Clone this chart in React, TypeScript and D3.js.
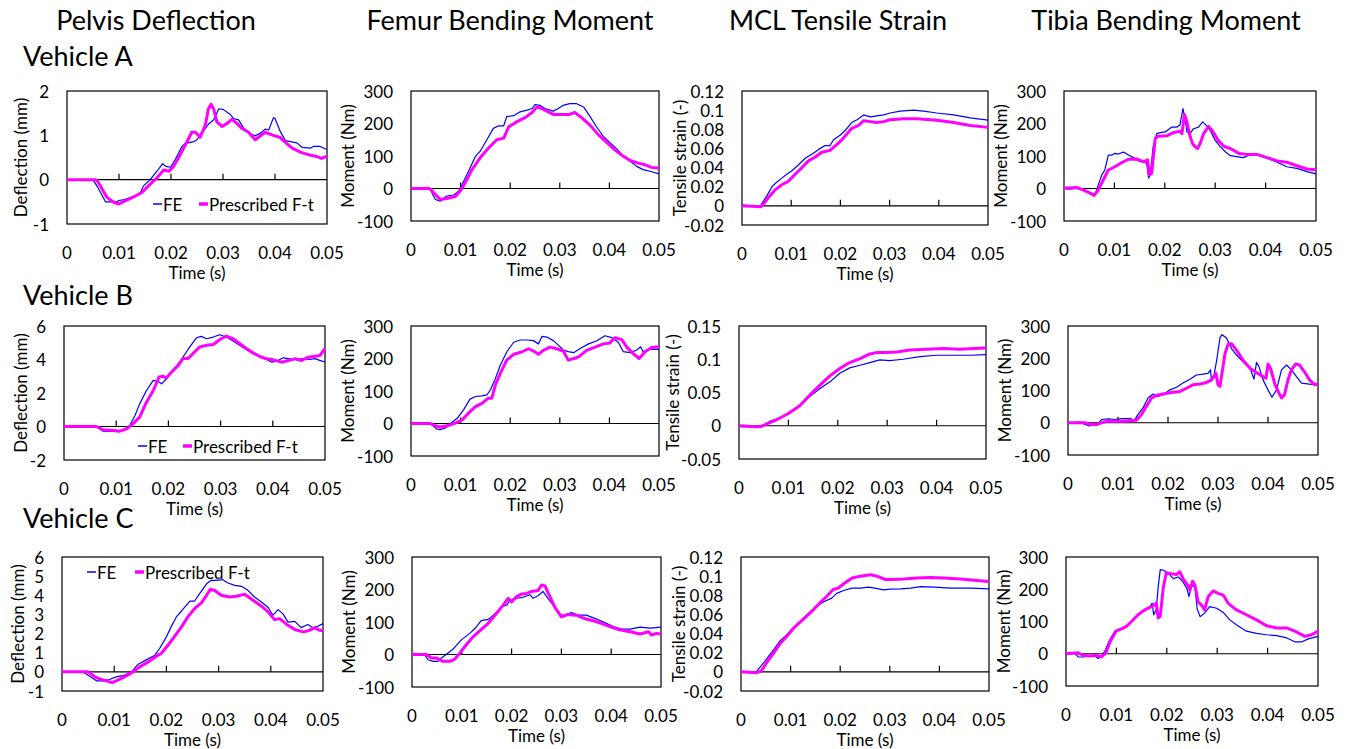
import * as d3 from 'd3';

type Pt = [number, number]; // [time in ms, value]

// ---------- Pelvis deflection (mm) ----------
const pelvisA_FE: Pt[] = [[0,0],[5,0],[5.8,-0.15],[7.4,-0.5],[9.6,-0.5],[10,-0.47],[11,-0.45],[12.5,-0.4],[14,-0.33],[14.7,-0.14],[16,0],[17.3,0.19],[18.4,0.36],[19,0.3],[19.9,0.28],[20.8,0.45],[22.1,0.75],[22.8,0.82],[24.4,0.86],[25,0.9],[25.6,1.0],[27.2,1.25],[28.2,1.35],[29.2,1.6],[30.1,1.58],[31.4,1.47],[32,1.38],[33,1.35],[34,1.16],[35.3,1.03],[36.2,0.99],[37.2,1.05],[38.1,1.14],[38.8,1.12],[39.7,1.4],[40,1.38],[41,1.09],[42,0.88],[43,0.86],[44.2,0.83],[45.2,0.73],[46.8,0.71],[47.4,0.75],[48.7,0.75],[49.4,0.71],[50,0.68]];
const pelvisA_PF: Pt[] = [[0,0],[5.4,0],[5.8,-0.02],[7.7,-0.4],[9,-0.51],[9.9,-0.55],[11.2,-0.48],[12.8,-0.39],[14.4,-0.29],[16,-0.1],[17.3,0.04],[18.6,0.22],[19.6,0.19],[20.5,0.3],[21.8,0.57],[22.8,0.79],[24,1.07],[24.7,1.07],[25.6,0.96],[26.6,1.23],[27.2,1.6],[27.7,1.7],[28.2,1.6],[28.8,1.31],[29.8,1.2],[30.8,1.27],[31.7,1.36],[32.7,1.27],[33.6,1.16],[34.9,1.07],[36.2,0.9],[37.2,0.99],[38.1,1.07],[39.4,1.01],[41,0.95],[42,0.84],[43.3,0.71],[44.9,0.62],[46.5,0.56],[47.8,0.53],[49,0.48],[50,0.53]];
const pelvisB_FE: Pt[] = [[0,0],[6.2,0],[7.5,-0.28],[9.4,-0.3],[11.3,-0.24],[12.6,0.06],[13.6,0.66],[14.5,1.35],[15.8,2.15],[17.1,2.75],[18,2.7],[18.7,2.55],[19.6,2.85],[20.6,3.25],[21.9,3.75],[22.8,4.15],[24.1,4.75],[25.4,5.3],[26.3,5.38],[27.3,5.24],[28.6,5.34],[29.8,5.48],[31.1,5.34],[32.4,5.1],[33.7,4.84],[35,4.58],[36.3,4.34],[37.5,4.18],[38.8,4.0],[39.8,3.84],[40.7,3.9],[42,4.1],[43.3,4.04],[44.6,4.0],[45.8,4.05],[47.1,4.0],[48.1,4.05],[49,3.95],[50,3.85]];
const pelvisB_PF: Pt[] = [[0,0],[6.2,0],[7.5,-0.2],[9.4,-0.24],[10.7,-0.28],[12,-0.14],[13.2,0.16],[14.5,0.56],[15.8,1.45],[17.1,2.15],[18.2,2.95],[19,3.0],[19.6,2.9],[20.6,3.25],[21.9,3.65],[22.8,4.06],[23.8,4.06],[24.7,4.36],[26,4.75],[27.3,4.85],[28.6,4.9],[29.8,5.18],[31.1,5.4],[32.4,5.24],[33.7,4.94],[35,4.64],[36.3,4.38],[37.5,4.18],[38.8,4.04],[40.1,3.98],[41.7,3.84],[43,3.94],[44.2,4.04],[45.5,3.94],[46.8,4.14],[48.1,4.2],[49,4.24],[50,4.64]];
const pelvisC_FE: Pt[] = [[0,0],[4,0],[5.3,-0.23],[6.6,-0.47],[7.9,-0.47],[9.1,-0.4],[10.4,-0.26],[12,-0.17],[13.3,0],[14.6,0.4],[16.2,0.64],[17.8,0.87],[18.7,1.22],[20,1.83],[20.9,2.35],[21.9,2.87],[22.9,3.18],[24.5,3.7],[25.4,3.7],[26.4,4.1],[27.7,4.6],[28.6,4.78],[29.6,4.78],[30.7,4.82],[31.8,4.64],[33.1,4.52],[34.4,4.47],[35.6,4.26],[36.9,3.91],[38.2,3.65],[39.5,3.36],[40.4,2.96],[41.4,3.25],[42.3,3.04],[43.3,2.6],[44.6,2.64],[45.8,2.31],[47.1,2.47],[48.1,2.3],[49,2.38],[50,2.52]];
const pelvisC_PF: Pt[] = [[0,0],[5,0],[6.3,-0.26],[7.5,-0.4],[8.5,-0.47],[9.6,-0.56],[10.7,-0.43],[12.3,-0.21],[13.6,0],[14.9,0.26],[16.5,0.52],[18.1,0.82],[19,0.96],[20.3,1.39],[21.5,1.83],[22.9,2.35],[24.1,2.87],[25.4,3.3],[26.7,3.6],[27.7,4.0],[28.4,4.31],[29.2,4.26],[30.5,4.0],[32.1,3.91],[33.4,3.95],[35,4.05],[36.6,3.74],[38.2,3.43],[39.5,3.13],[40.7,2.73],[41.7,2.78],[43,2.49],[44.6,2.21],[46.2,2.09],[47.1,2.14],[48.4,2.3],[49.4,2.17],[50,2.14]];

// ---------- Femur bending moment (Nm) ----------
const femurA_FE: Pt[] = [[0,0],[4,0],[4.2,-13],[4.9,-34],[5.9,-39],[6.6,-30],[7.2,-23],[8.6,-20],[9.6,-8],[10.3,12],[11.6,53],[13,99],[14,116],[15.3,150],[16.6,185],[17.7,193],[18.7,193],[19.3,221],[20.7,224],[22,236],[23.4,241],[24.4,246],[25,258],[26,256],[27,246],[27.7,243],[28.7,238],[29.7,246],[30.7,256],[32,261],[33.4,261],[34.8,251],[36.1,221],[37.4,190],[38.8,160],[40.1,141],[41.5,122],[42.8,99],[44.2,84],[45.5,68],[46.8,58],[48.2,53],[50,45]];
const femurA_PF: Pt[] = [[0,0],[3.7,0],[3.9,-2],[4.9,-18],[5.9,-34],[7.2,-31],[8.9,-25],[9.9,-8],[10.9,17],[12.3,58],[14,96],[15.6,124],[17.3,150],[18.7,155],[19.7,190],[21.3,205],[23,218],[24.4,234],[25.4,251],[26.4,246],[27.7,236],[28.7,228],[30.4,228],[32,228],[33,234],[34.4,218],[36.1,195],[37.8,165],[39.5,141],[41.1,119],[42.8,99],[44.2,86],[45.8,78],[47.2,73],[48.5,65],[50,63]];
const femurB_FE: Pt[] = [[0,0],[3.2,0],[4.2,-4],[5.2,-17],[5.9,-19],[6.9,-14],[7.9,-1],[9.3,16],[10.6,42],[11.9,75],[13,83],[14.3,85],[15.3,88],[16,103],[17,138],[18,179],[19.3,220],[20.7,250],[22,257],[23.4,257],[24.7,255],[25.7,245],[26.4,268],[27.4,266],[28.7,255],[29.7,241],[30.7,226],[31.7,221],[32.8,218],[34.1,231],[35.8,245],[37.4,254],[39.1,270],[40.5,264],[41.8,250],[42.8,221],[44.2,218],[45.5,226],[46.3,236],[46.8,221],[48.2,228],[50,228]];
const femurB_PF: Pt[] = [[0,0],[3.9,0],[4.9,-7],[5.9,-11],[7.2,-7],[8.6,-1],[10.3,11],[11.6,32],[13,52],[14.3,62],[15.6,78],[16.3,78],[17,118],[18,154],[19.3,195],[20.7,213],[22.3,220],[23.7,230],[24.7,223],[25.7,213],[26.7,225],[28,235],[29.4,230],[30.7,223],[31.7,195],[32.8,200],[33.8,205],[35.4,225],[37.1,235],[38.8,245],[40.1,248],[41.1,264],[42.5,258],[43.5,235],[44.8,215],[46,200],[47.2,221],[48.5,234],[50,236]];
const femurC_FE: Pt[] = [[0,0],[2.5,0],[3.2,-16],[4.2,-21],[5.2,-21],[5.9,-11],[6.8,-1],[8.2,16],[9.9,45],[11.6,65],[12.9,84],[13.9,104],[15.3,108],[16.6,124],[18,147],[19,152],[19.6,165],[21,173],[22.3,176],[23.7,184],[24.3,173],[25.3,181],[26.3,194],[27.3,173],[28.7,145],[29.7,121],[30.7,121],[32,129],[33.4,121],[35,121],[37.1,109],[38.7,98],[40.4,86],[42.1,78],[43.8,78],[45.8,84],[47.8,81],[50,84]];
const femurC_PF: Pt[] = [[0,0],[2.9,0],[3.9,-11],[4.9,-11],[6.2,-21],[7.6,-21],[8.6,-14],[9.6,4],[10.9,30],[12.3,55],[13.6,73],[15.3,96],[17,127],[18.3,152],[19.3,173],[20,162],[21,178],[22,186],[23,188],[24,194],[25.3,197],[26,214],[26.7,211],[27.7,178],[28.7,145],[30,116],[31.3,123],[33,121],[34.6,111],[36.4,104],[38,96],[39.7,86],[41.7,76],[43.8,70],[45.8,63],[47.5,70],[48.1,60],[49.1,65],[50,63]];

// ---------- MCL tensile strain (-) ----------
const mclA_FE: Pt[] = [[0,0.0007],[3.7,-0.0007],[4.1,0.003],[5.1,0.011],[6.1,0.02],[7.1,0.025],[8.1,0.029],[9.1,0.033],[10.2,0.037],[11.5,0.043],[12.9,0.05],[14.2,0.054],[15.6,0.059],[16.9,0.063],[17.9,0.063],[18.6,0.069],[20,0.074],[21,0.079],[22.3,0.087],[23.4,0.09],[24.7,0.095],[26.1,0.093],[27.4,0.094],[28.8,0.095],[30.1,0.097],[32.2,0.099],[34.9,0.1],[36.9,0.099],[39.6,0.097],[43,0.095],[46.4,0.092],[50,0.0895]];
const mclA_PF: Pt[] = [[0,0],[2,-0.0005],[3.8,-0.001],[4.4,0.002],[5.4,0.009],[6.8,0.017],[8.1,0.022],[9.5,0.026],[10.8,0.033],[12.2,0.04],[13.5,0.047],[14.9,0.051],[16.2,0.056],[17.9,0.058],[19,0.063],[20.3,0.069],[21.3,0.075],[22.3,0.081],[23.7,0.084],[24.7,0.089],[26.1,0.088],[27.4,0.087],[28.8,0.088],[30.1,0.09],[32.8,0.091],[35.6,0.091],[39.6,0.0895],[43,0.087],[46.4,0.084],[50,0.082]];
const mclB_FE: Pt[] = [[0,-0.001],[3.5,-0.002],[4.9,0],[6.2,0.0065],[8.2,0.0115],[10.3,0.019],[12.3,0.03],[14.3,0.044],[16.4,0.056],[18.4,0.066],[20.4,0.079],[22.4,0.087],[24.5,0.091],[26.5,0.095],[28.5,0.099],[30.5,0.098],[33.2,0.1],[36.6,0.104],[40,0.106],[43.4,0.106],[46.8,0.106],[50,0.107]];
const mclB_PF: Pt[] = [[0,0],[3.5,-0.0015],[4.5,-0.001],[5.5,0.0025],[7.6,0.009],[9.9,0.018],[12.3,0.03],[14.3,0.046],[16.4,0.061],[18.4,0.075],[20.4,0.086],[22.4,0.095],[24.5,0.101],[26.5,0.108],[27.8,0.11],[29.9,0.11],[31.9,0.111],[34.6,0.114],[38,0.115],[41.4,0.116],[44.7,0.115],[47.4,0.116],[50,0.117]];
const mclC_FE: Pt[] = [[0,0],[3,-0.0007],[3.4,0.002],[4.5,0.009],[5.5,0.016],[6.8,0.0245],[7.8,0.032],[8.9,0.037],[10.2,0.044],[11.6,0.051],[12.9,0.058],[14.3,0.064],[15.6,0.07],[17,0.074],[18.3,0.077],[19.3,0.082],[20.7,0.085],[22.4,0.0875],[24.1,0.0875],[25.7,0.0885],[27,0.0875],[28.8,0.0857],[30.1,0.0864],[32.2,0.0868],[34.2,0.0875],[36.2,0.089],[38.9,0.0885],[42.3,0.0875],[46.4,0.0875],[50,0.0868]];
const mclC_PF: Pt[] = [[0,0],[3.1,-0.001],[4.1,0.001],[5.1,0.009],[6.5,0.019],[7.8,0.029],[9.2,0.037],[10.5,0.045],[11.9,0.052],[13.2,0.058],[14.6,0.065],[15.9,0.072],[17.3,0.079],[18.6,0.086],[19.6,0.0875],[20.7,0.092],[22.4,0.098],[24.1,0.1],[26.1,0.1015],[27.4,0.1],[29.1,0.0965],[30.5,0.0965],[32.8,0.097],[35.5,0.098],[38.2,0.0987],[40.9,0.098],[44.3,0.097],[47.6,0.0955],[50,0.0945]];

// ---------- Tibia bending moment (Nm) ----------
const tibiaA_FE: Pt[] = [[0,0],[1.2,-2],[2.5,1],[3.5,-1],[4.5,-9],[5.5,-19],[6,-21],[6.4,-9],[6.8,11],[7.5,42],[8.1,57],[8.8,103],[9.5,103],[10.1,108],[10.8,106],[11.8,112],[12.8,103],[13.8,95],[14.8,85],[15.8,81],[16.4,78],[16.8,32],[17.1,42],[17.7,129],[18.4,169],[19.1,172],[20.1,174],[21.4,189],[22.4,189],[23,195],[23.6,246],[24,215],[24.4,174],[25,169],[25.7,184],[26.7,189],[27.5,205],[28.2,195],[29,179],[30,148],[31,129],[32,113],[33,101],[34.3,98],[35.6,95],[37,105],[38.3,103],[40.3,93],[42.3,81],[44.2,67],[46.2,62],[48.2,52],[50,45]];
const tibiaA_PF: Pt[] = [[0,1],[2.5,3],[3.8,-4],[5.2,-14],[6,-21],[6.8,-4],[7.8,27],[8.8,57],[10.1,67],[11.5,80],[12.8,90],[14.4,91],[15.8,82],[16.6,88],[16.9,42],[17.4,47],[18.1,154],[18.7,161],[20.4,162],[21.7,172],[23,176],[23.4,169],[23.9,228],[24.4,205],[24.9,167],[25.5,138],[26,129],[26.5,123],[27,138],[27.7,169],[28.7,191],[29.6,174],[30.6,148],[31.7,130],[33,123],[34.7,108],[36.3,105],[38.3,105],[40.3,95],[42.3,85],[44.2,81],[46.2,70],[48.2,60],[50,58]];
const tibiaB_FE: Pt[] = [[0,0],[2.4,2],[3.4,-5],[4.3,-10],[5.1,-5],[6.1,-2],[6.7,10],[8.1,12],[9.4,10],[10.7,13],[12,13],[12.7,12],[13.2,5],[14,26],[15,46],[16,77],[17,89],[18,82],[19,87],[20.4,102],[21.7,110],[23,123],[24.4,135],[25.7,148],[27,151],[28,153],[28.5,164],[28.7,130],[29.2,148],[29.7,190],[30.4,264],[30.8,273],[31.7,263],[32.7,230],[33.7,210],[35,189],[36.4,169],[37.2,135],[37.7,187],[38.2,174],[39,133],[40,102],[40.8,79],[41.7,102],[42.7,164],[43.7,179],[44.7,164],[45.7,143],[46.7,123],[48.3,120],[50,118]];
const tibiaB_PF: Pt[] = [[0,0],[3.4,0],[4.4,-5],[5.7,-6],[7.1,2],[8.4,5],[11,5],[13.7,8],[14.7,26],[15.7,51],[16.7,77],[17.7,85],[19,89],[20.7,94],[22.4,97],[23.7,107],[25,118],[26.4,120],[27.7,125],[28.7,133],[29.6,153],[30,118],[30.4,113],[30.9,164],[31.4,215],[32,243],[32.7,245],[33.7,225],[35,194],[36.4,169],[37.7,156],[39,143],[39.6,138],[40,182],[40.5,169],[41.4,118],[42.2,92],[42.7,77],[43.3,87],[44,133],[44.7,164],[45.5,182],[46.3,179],[47.3,158],[48.3,133],[49.3,118],[50,120]];
const tibiaC_FE: Pt[] = [[0,0],[1.7,3],[2.4,-10],[3.4,-10],[4.7,-7],[5.7,-7],[6.4,-15],[7,-7],[7.7,8],[8.7,44],[9.7,70],[10.3,75],[11,77],[11.7,83],[12.6,95],[14,116],[15.3,131],[16.6,144],[17.1,157],[17.4,121],[17.9,136],[18.3,208],[18.7,261],[19.4,259],[20.3,249],[21.3,233],[22.3,238],[23.2,223],[24,202],[24.4,177],[24.9,212],[25.6,207],[26,141],[26.6,115],[27.5,126],[28.5,146],[29.9,141],[31.2,128],[32.5,105],[33.8,90],[35.8,70],[37.8,63],[39.8,59],[41.8,56],[43.8,49],[45.4,37],[46.8,37],[48.1,46],[50,54]];
const tibiaC_PF: Pt[] = [[0,0],[2.4,3],[3.4,-5],[4.7,-7],[6,-5],[7,-10],[7.9,3],[8.8,39],[9.9,70],[11,77],[12,85],[13,100],[14.3,121],[15.6,136],[17,146],[17.9,157],[18.3,111],[18.7,116],[19.3,205],[19.9,251],[20.9,248],[21.9,246],[22.6,254],[23.2,233],[24.2,212],[24.6,197],[25.1,225],[25.6,212],[26.2,161],[26.9,151],[27.5,136],[28.2,177],[29.2,195],[30.2,187],[31.2,182],[32.2,156],[33.8,136],[35.8,121],[37.8,105],[39.8,87],[41.8,80],[43.8,80],[45.4,70],[47.4,54],[48.7,59],[50,70]];

const columnTitles = ['Pelvis Deflection', 'Femur Bending Moment', 'MCL Tensile Strain', 'Tibia Bending Moment'];
const vehicles = ['Vehicle A', 'Vehicle B', 'Vehicle C'];
const timeTicks = [0, 0.01, 0.02, 0.03, 0.04, 0.05];
const seriesNames = ['FE', 'Prescribed F-t'];

const pelvisTicksA = [-1, 0, 1, 2];
const pelvisTicksB = [-2, 0, 2, 4, 6];
const pelvisTicksC = [-1, 0, 1, 2, 3, 4, 5, 6];
const momentTicks = [-100, 0, 100, 200, 300];
const strainTicksAC = [-0.02, 0, 0.02, 0.04, 0.06, 0.08, 0.1, 0.12];
const strainTicksB = [-0.05, 0, 0.05, 0.1, 0.15];

const FONT = 'Lato, "Open Sans", sans-serif';
const BLUE = '#0000ff';
const MAGENTA = '#ff00ff';

type Box = { l: number; r: number; t: number; b: number };
type Panel = {
  fe: Pt[];
  pf: Pt[];
  ticks: number[];
  label: string;
  box: Box;
  titleX: number;
  legend?: { x1: number; x2: number; y: number };
};

const panels: Panel[] = [
  { fe: pelvisA_FE, pf: pelvisA_PF, ticks: pelvisTicksA, label: 'Deflection (mm)', box: { l: 67, r: 327, t: 91, b: 224 }, titleX: 20, legend: { x1: 153, x2: 199, y: 204 } },
  { fe: femurA_FE, pf: femurA_PF, ticks: momentTicks, label: 'Moment (Nm)', box: { l: 411, r: 659, t: 91, b: 221 }, titleX: 347 },
  { fe: mclA_FE, pf: mclA_PF, ticks: strainTicksAC, label: 'Tensile strain (-)', box: { l: 742, r: 988, t: 91, b: 225 }, titleX: 679 },
  { fe: tibiaA_FE, pf: tibiaA_PF, ticks: momentTicks, label: 'Moment (Nm)', box: { l: 1064, r: 1316, t: 91, b: 221 }, titleX: 1000 },
  { fe: pelvisB_FE, pf: pelvisB_PF, ticks: pelvisTicksB, label: 'Deflection (mm)', box: { l: 64, r: 325, t: 326, b: 460 }, titleX: 20, legend: { x1: 138, x2: 183, y: 446 } },
  { fe: femurB_FE, pf: femurB_PF, ticks: momentTicks, label: 'Moment (Nm)', box: { l: 411, r: 659, t: 326, b: 456 }, titleX: 347 },
  { fe: mclB_FE, pf: mclB_PF, ticks: strainTicksB, label: 'Tensile strain (-)', box: { l: 739, r: 986, t: 326, b: 459 }, titleX: 672 },
  { fe: tibiaB_FE, pf: tibiaB_PF, ticks: momentTicks, label: 'Moment (Nm)', box: { l: 1068, r: 1318, t: 326, b: 455 }, titleX: 1004 },
  { fe: pelvisC_FE, pf: pelvisC_PF, ticks: pelvisTicksC, label: 'Deflection (mm)', box: { l: 62, r: 323, t: 557, b: 691 }, titleX: 17, legend: { x1: 87, x2: 135, y: 572 } },
  { fe: femurC_FE, pf: femurC_PF, ticks: momentTicks, label: 'Moment (Nm)', box: { l: 412, r: 661, t: 557, b: 687 }, titleX: 348 },
  { fe: mclC_FE, pf: mclC_PF, ticks: strainTicksAC, label: 'Tensile strain (-)', box: { l: 741, r: 989, t: 557, b: 691 }, titleX: 678 },
  { fe: tibiaC_FE, pf: tibiaC_PF, ticks: momentTicks, label: 'Moment (Nm)', box: { l: 1066, r: 1318, t: 557, b: 686 }, titleX: 1003 },
];

const fmt = (v: number) => String(+v.toFixed(3));

function ChartPanel({ p }: { p: Panel }) {
  const { box } = p;
  const x = d3.scaleLinear().domain([0, 0.05]).range([box.l, box.r]);
  const y = d3.scaleLinear().domain(d3.extent(p.ticks) as [number, number]).range([box.b, box.t]);
  const line = d3.line<Pt>().x(d => x(d[0] / 1000)).y(d => y(d[1]));
  const y0 = y(0);

  return (
    <g fontFamily={FONT} fontSize={17} fill="#000">
      <rect x={box.l} y={box.t} width={box.r - box.l} height={box.b - box.t} fill="none" stroke="#000" strokeWidth={1.2} />
      <line x1={box.l} x2={box.r} y1={y0} y2={y0} stroke="#000" strokeWidth={1.2} />
      {timeTicks.slice(1, -1).map(t => (
        <line key={t} x1={x(t)} x2={x(t)} y1={y0} y2={y0 - 6} stroke="#000" strokeWidth={1.2} />
      ))}
      {p.ticks.map(v => (
        <text key={v} x={box.l - 18} y={y(v)} textAnchor="end" dominantBaseline="central">{fmt(v)}</text>
      ))}
      {timeTicks.map(t => (
        <text key={t} x={x(t)} y={box.b + 28} textAnchor="middle" dominantBaseline="central">{fmt(t)}</text>
      ))}
      <text x={(box.l + box.r) / 2} y={box.b + 48} textAnchor="middle" dominantBaseline="central">Time (s)</text>
      <text transform={`translate(${p.titleX},${(box.t + box.b) / 2}) rotate(-90)`} textAnchor="middle" dominantBaseline="central">{p.label}</text>

      <path d={line(p.fe) ?? ''} fill="none" stroke={BLUE} strokeWidth={1.2} strokeLinejoin="round" />
      <path d={line(p.pf) ?? ''} fill="none" stroke={MAGENTA} strokeWidth={3} strokeLinejoin="round" />

      {p.legend && (
        <g>
          <line x1={p.legend.x1} x2={p.legend.x1 + 9} y1={p.legend.y} y2={p.legend.y} stroke={BLUE} strokeWidth={1.5} />
          <text x={p.legend.x1 + 10} y={p.legend.y} dominantBaseline="central">{seriesNames[0]}</text>
          <line x1={p.legend.x2} x2={p.legend.x2 + 9} y1={p.legend.y} y2={p.legend.y} stroke={MAGENTA} strokeWidth={3.5} />
          <text x={p.legend.x2 + 10} y={p.legend.y} dominantBaseline="central">{seriesNames[1]}</text>
        </g>
      )}
    </g>
  );
}

const titleCenters = [156, 510, 838, 1166];
const vehicleBaselines = [66, 305, 528];

export default function App() {
  return (
    <svg width={1349} height={749} style={{ position: 'absolute', left: 0, top: 0, background: '#fff' }}>
      <rect width={1349} height={749} fill="#fff" />
      {columnTitles.map((t, i) => (
        <text key={t} x={titleCenters[i]} y={30} textAnchor="middle" fontFamily={FONT} fontSize={27}>{t}</text>
      ))}
      {vehicles.map((v, i) => (
        <text key={v} x={23} y={vehicleBaselines[i]} fontFamily={FONT} fontSize={27}>{v}</text>
      ))}
      {panels.map((p, i) => <ChartPanel key={i} p={p} />)}
    </svg>
  );
}
